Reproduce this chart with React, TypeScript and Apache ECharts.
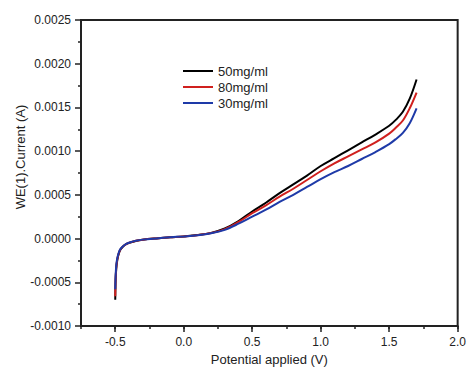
import React, { useEffect, useRef } from "react";
import * as echarts from "echarts";

const potential = [
  -0.5, -0.498, -0.495, -0.49, -0.48, -0.465, -0.445, -0.42, -0.39, -0.35, -0.3, -0.2, -0.1,
  0.0, 0.1, 0.2, 0.3, 0.4, 0.5, 0.6, 0.7, 0.8, 0.9, 1.0, 1.1, 1.2, 1.3, 1.4, 1.5, 1.55, 1.6, 1.65, 1.7,
];

const current50 = [
  -0.0007, -0.00052, -0.0004, -0.0003, -0.000205, -0.000135, -0.000094, -0.000064, -0.000045,
  -0.000027, -0.000013, 0.000002, 0.000014, 0.000025, 0.00004, 0.000065, 0.000115, 0.0002,
  0.00031, 0.00041, 0.00052, 0.00062, 0.00072, 0.00083, 0.00092, 0.00101, 0.0011, 0.00119,
  0.00129, 0.00136, 0.00145, 0.0016, 0.00182,
];

const current80 = [
  -0.00066, -0.0005, -0.00039, -0.00029, -0.0002, -0.00013, -0.000092, -0.000063, -0.000044,
  -0.000026, -0.000013, 0.000002, 0.000014, 0.000025, 0.000039, 0.000063, 0.000108, 0.00019,
  0.00029, 0.00038, 0.00048, 0.00057, 0.00067, 0.00077, 0.00086, 0.00094, 0.00102, 0.0011,
  0.0012, 0.00127, 0.00135, 0.00149, 0.00167,
];

const current30 = [
  -0.00058, -0.00046, -0.00036, -0.00027, -0.00019, -0.000125, -0.00009, -0.00006, -0.000042,
  -0.000025, -0.000012, 0.000002, 0.000014, 0.000025, 0.000038, 0.00006, 0.0001, 0.00017,
  0.00025, 0.00033, 0.00042, 0.0005, 0.00059, 0.00068, 0.00076, 0.00083, 0.00091, 0.00099,
  0.00108, 0.00114, 0.00121, 0.00132, 0.00149,
];

const seriesNames = ["50mg/ml", "80mg/ml", "30mg/ml"];
const seriesColors = ["#000000", "#d0201e", "#1e3aa8"];
const xMajorTicks = [-0.5, 0.0, 0.5, 1.0, 1.5, 2.0];

const FONT = "Liberation Sans, Arial, Helvetica, sans-serif";
const AXIS_COLOR = "#222222";
const AXIS_WIDTH = 2;

export default function App() {
  const ref = useRef<HTMLDivElement>(null);

  useEffect(() => {
    if (!ref.current) return;
    const chart = echarts.init(ref.current, undefined, { renderer: "svg" });
    const series = [current50, current80, current30].map((vals, i) => ({
      name: seriesNames[i],
      type: "line",
      xAxisIndex: 0,
      yAxisIndex: 0,
      data: potential.map((x, j) => [x, vals[j]]),
      symbol: "none",
      smooth: 0.35,
      lineStyle: { color: seriesColors[i], width: 2 },
      itemStyle: { color: seriesColors[i] },
    }));
    chart.setOption({
      animation: false,
      backgroundColor: "#ffffff",
      grid: {
        left: 81,
        right: 8,
        top: 20,
        bottom: 46,
        show: true,
        borderColor: AXIS_COLOR,
        borderWidth: AXIS_WIDTH,
        backgroundColor: "transparent",
      },
      legend: {
        orient: "vertical",
        left: 178,
        top: 58,
        icon: "rect",
        itemWidth: 30,
        itemHeight: 2,
        itemGap: 0,
        data: seriesNames,
        textStyle: { fontFamily: FONT, fontSize: 13, color: "#222", lineHeight: 16 },
      },
      xAxis: [
        {
          type: "value",
          min: -0.75,
          max: 2.0,
          name: "Potential applied (V)",
          nameLocation: "middle",
          nameGap: 22,
          nameTextStyle: { fontFamily: FONT, fontSize: 13, color: "#222" },
          axisLine: { show: true, onZero: false, lineStyle: { color: AXIS_COLOR, width: AXIS_WIDTH } },
          axisTick: {
            show: true,
            inside: false,
            length: 6,
            customValues: xMajorTicks,
            lineStyle: { color: AXIS_COLOR, width: 1.5 },
          },
          axisLabel: {
            customValues: xMajorTicks,
            margin: 10,
            fontFamily: FONT,
            fontSize: 12,
            color: "#222",
            formatter: (v: number) => v.toFixed(1),
          },
          splitLine: { show: false },
        },
        {
          type: "value",
          min: -0.75,
          max: 2.0,
          interval: 0.25,
          position: "bottom",
          axisLine: { show: false, onZero: false },
          axisTick: { show: true, inside: false, length: 3, lineStyle: { color: AXIS_COLOR, width: 1.5 } },
          axisLabel: { show: false },
          splitLine: { show: false },
        },
      ],
      yAxis: {
        type: "value",
        min: -0.001,
        max: 0.0025,
        interval: 0.0005,
        axisLine: { show: true, onZero: false, lineStyle: { color: AXIS_COLOR, width: AXIS_WIDTH } },
        axisTick: { show: true, inside: false, length: 6, lineStyle: { color: AXIS_COLOR, width: 1.5 } },
        minorTick: { show: true, splitNumber: 2, length: 3, lineStyle: { color: AXIS_COLOR, width: 1.5 } },
        axisLabel: {
          margin: 10,
          fontFamily: FONT,
          fontSize: 12,
          color: "#222",
          formatter: (v: number) => v.toFixed(4),
        },
        splitLine: { show: false },
      },
      graphic: [
        {
          type: "text",
          x: 20,
          y: 157,
          rotation: Math.PI / 2,
          style: {
            text: "WE(1).Current (A)",
            align: "center",
            verticalAlign: "middle",
            font: `13px ${FONT}`,
            fill: "#222",
          },
        },
      ],
      series,
    });
    return () => chart.dispose();
  }, []);

  return <div ref={ref} style={{ width: 469, height: 372, position: "absolute", left: 0, top: 0 }} />;
}
